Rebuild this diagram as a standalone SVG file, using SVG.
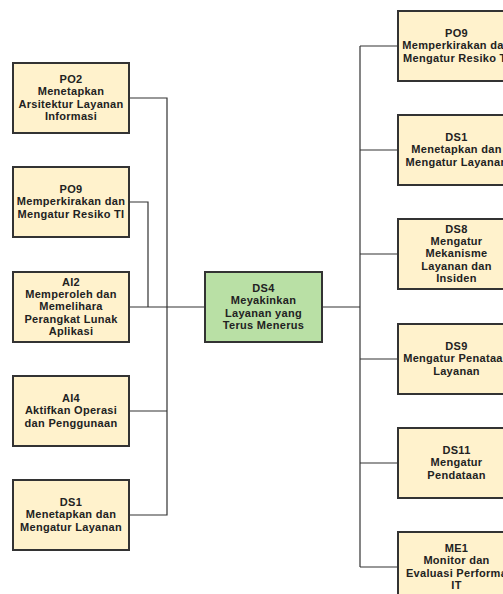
<svg xmlns="http://www.w3.org/2000/svg" width="503" height="594" viewBox="0 0 503 594">
<style>
.box{fill:#fff2cc;stroke:#333;stroke-width:2}
.main{fill:#b9e0a5;stroke:#333;stroke-width:2}
.lbl{font-family:"Liberation Sans",Arial,sans-serif;font-size:11px;font-weight:bold;letter-spacing:0.3px;fill:#222;text-anchor:middle}
.conn{fill:none;stroke:#333;stroke-width:1.2}
</style>
<rect width="503" height="594" fill="#ffffff"/>
<g id="connectors" class="conn">
<polyline points="130,98 167,98 167,515 130,515"/>
<polyline points="130,202 148,202 148,307"/>
<line x1="130" y1="307" x2="205" y2="307"/>
<line x1="130" y1="411" x2="167" y2="411"/>
<line x1="322" y1="307" x2="360" y2="307"/>
<line x1="360" y1="46" x2="360" y2="567"/>
<line x1="360" y1="46" x2="398" y2="46"/>
<line x1="360" y1="150" x2="398" y2="150"/>
<line x1="360" y1="254" x2="398" y2="254"/>
<line x1="360" y1="359" x2="398" y2="359"/>
<line x1="360" y1="463" x2="398" y2="463"/>
<line x1="360" y1="567" x2="398" y2="567"/>
</g>
<g id="po2-left">
<rect class="box" x="13" y="63" width="116" height="70"/>
<text class="lbl" y="82.7"><tspan x="71">PO2</tspan><tspan x="71" dy="12.4">Menetapkan</tspan><tspan x="71" dy="12.4">Arsitektur Layanan</tspan><tspan x="71" dy="12.4">Informasi</tspan></text>
</g>
<g id="po9-left">
<rect class="box" x="13" y="167" width="116" height="70"/>
<text class="lbl" y="192.9"><tspan x="71">PO9</tspan><tspan x="71" dy="12.4">Memperkirakan dan</tspan><tspan x="71" dy="12.4">Mengatur Resiko TI</tspan></text>
</g>
<g id="ai2">
<rect class="box" x="13" y="272" width="116" height="70"/>
<text class="lbl" y="285.5"><tspan x="71">AI2</tspan><tspan x="71" dy="12.4">Memperoleh dan</tspan><tspan x="71" dy="12.4">Memelihara</tspan><tspan x="71" dy="12.4">Perangkat Lunak</tspan><tspan x="71" dy="12.4">Aplikasi</tspan></text>
</g>
<g id="ai4">
<rect class="box" x="13" y="376" width="116" height="70"/>
<text class="lbl" y="401.9"><tspan x="71">AI4</tspan><tspan x="71" dy="12.4">Aktifkan Operasi</tspan><tspan x="71" dy="12.4">dan Penggunaan</tspan></text>
</g>
<g id="ds1-left">
<rect class="box" x="13" y="480" width="116" height="70"/>
<text class="lbl" y="505.9"><tspan x="71">DS1</tspan><tspan x="71" dy="12.4">Menetapkan dan</tspan><tspan x="71" dy="12.4">Mengatur Layanan</tspan></text>
</g>
<g id="ds4">
<rect class="main" x="205" y="272" width="117" height="70"/>
<text class="lbl" y="291.7"><tspan x="263.5">DS4</tspan><tspan x="263.5" dy="12.4">Meyakinkan</tspan><tspan x="263.5" dy="12.4">Layanan yang</tspan><tspan x="263.5" dy="12.4">Terus Menerus</tspan></text>
</g>
<g id="po9-right">
<rect class="box" x="398" y="11" width="117" height="70"/>
<text class="lbl" y="36.9"><tspan x="456.5">PO9</tspan><tspan x="456.5" dy="12.4">Memperkirakan dan</tspan><tspan x="456.5" dy="12.4">Mengatur Resiko TI</tspan></text>
</g>
<g id="ds1-right">
<rect class="box" x="398" y="115" width="117" height="70"/>
<text class="lbl" y="140.9"><tspan x="456.5">DS1</tspan><tspan x="456.5" dy="12.4">Menetapkan dan</tspan><tspan x="456.5" dy="12.4">Mengatur Layanan</tspan></text>
</g>
<g id="ds8">
<rect class="box" x="398" y="219" width="117" height="70"/>
<text class="lbl" y="232.5"><tspan x="456.5">DS8</tspan><tspan x="456.5" dy="12.4">Mengatur</tspan><tspan x="456.5" dy="12.4">Mekanisme</tspan><tspan x="456.5" dy="12.4">Layanan dan</tspan><tspan x="456.5" dy="12.4">Insiden</tspan></text>
</g>
<g id="ds9">
<rect class="box" x="398" y="324" width="117" height="70"/>
<text class="lbl" y="349.9"><tspan x="456.5">DS9</tspan><tspan x="456.5" dy="12.4">Mengatur Penataan</tspan><tspan x="456.5" dy="12.4">Layanan</tspan></text>
</g>
<g id="ds11">
<rect class="box" x="398" y="428" width="117" height="70"/>
<text class="lbl" y="453.9"><tspan x="456.5">DS11</tspan><tspan x="456.5" dy="12.4">Mengatur</tspan><tspan x="456.5" dy="12.4">Pendataan</tspan></text>
</g>
<g id="me1">
<rect class="box" x="398" y="532" width="117" height="70"/>
<text class="lbl" y="551.7"><tspan x="456.5">ME1</tspan><tspan x="456.5" dy="12.4">Monitor dan</tspan><tspan x="456.5" dy="12.4">Evaluasi Performa</tspan><tspan x="456.5" dy="12.4">IT</tspan></text>
</g>
</svg>
